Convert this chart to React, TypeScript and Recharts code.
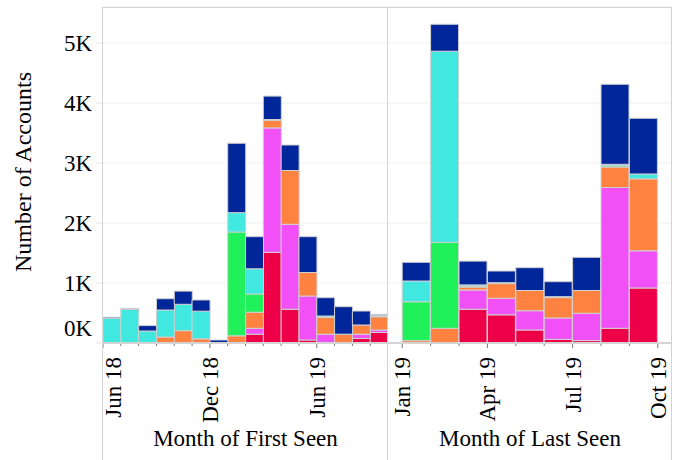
import { BarChart, Bar, XAxis, YAxis, CartesianGrid } from 'recharts'

// months on each pane (Oct 19 is only an axis tick on the right pane)
const firstMonths = ['Jun 18', 'Jul 18', 'Aug 18', 'Sep 18', 'Oct 18', 'Nov 18', 'Dec 18', 'Jan 19', 'Feb 19', 'Mar 19', 'Apr 19', 'May 19', 'Jun 19', 'Jul 19', 'Aug 19', 'Sep 19']
const lastMonths = ['Jan 19', 'Feb 19', 'Mar 19', 'Apr 19', 'May 19', 'Jun 19', 'Jul 19', 'Aug 19', 'Sep 19']
const lastAxisMonths = [...lastMonths, 'Oct 19']

const firstTickLabels = ['Jun 18', 'Dec 18', 'Jun 19']
const lastTickLabels = ['Jan 19', 'Apr 19', 'Jul 19', 'Oct 19']
const yTicks = [0, 1000, 2000, 3000, 4000, 5000]

// Month of First Seen
const firstRed = [0, 0, 0, 0, 0, 0, 0, 0, 147, 1510, 563, 50, 0, 0, 75, 175]
const firstMagenta = [0, 0, 0, 0, 0, 0, 0, 0, 98, 2075, 1415, 733, 147, 0, 72, 42]
const firstOrange = [0, 0, 0, 100, 205, 70, 0, 120, 268, 125, 897, 392, 278, 147, 153, 220]
const firstGreen = [0, 0, 0, 0, 0, 0, 0, 1730, 304, 0, 0, 0, 0, 0, 0, 0]
const firstCyan = [415, 560, 200, 450, 440, 460, 0, 322, 420, 15, 0, 0, 25, 0, 0, 20]
const firstBlue = [15, 15, 90, 188, 220, 187, 50, 1157, 535, 390, 425, 597, 305, 458, 233, 20]

// Month of Last Seen
const lastRed = [0, 0, 563, 470, 217, 60, 40, 245, 917]
const lastMagenta = [0, 0, 320, 275, 321, 357, 455, 2347, 620]
const lastOrange = [40, 245, 50, 245, 337, 340, 380, 341, 1200]
const lastGreen = [648, 1433, 15, 0, 0, 0, 0, 20, 0]
const lastCyan = [345, 3185, 20, 15, 0, 15, 0, 25, 80]
const lastBlue = [312, 449, 397, 195, 380, 250, 553, 1334, 928]

const seriesKeys = ['red', 'magenta', 'orange', 'green', 'cyan', 'blue']
const seriesColors = ['#ee0048', '#f050f5', '#ff8240', '#20f05a', '#40e8e0', '#00269a']

const FONT = '"Liberation Serif", "Times New Roman", serif'
const BORDER = '#d3d3d3'

function buildRows(months: string[], cols: number[][]) {
  return months.map((m, i) => {
    const row: any = { x: i + 0.5, month: m }
    seriesKeys.forEach((k, j) => { row[k] = cols[j][i] })
    return row
  })
}

const firstData = buildRows(firstMonths, [firstRed, firstMagenta, firstOrange, firstGreen, firstCyan, firstBlue])
const lastData = buildRows(lastMonths, [lastRed, lastMagenta, lastOrange, lastGreen, lastCyan, lastBlue])

function monthTick(months: string[], labels: string[], firstShift: number) {
  return (props: any) => {
    const { x, y, payload } = props
    const i = payload.value
    const name = months[i]
    const major = labels.includes(name)
    const lx = x + (i === 0 ? firstShift : 0)
    const ty = y + 14
    return (
      <g>
        <line x1={x} x2={x} y1={y + 1} y2={y + (major ? 5 : 3)} stroke="#777" strokeWidth={1} />
        {major && (
          <text x={lx} y={ty} transform={`rotate(-90, ${lx}, ${ty})`} textAnchor="end" dy="0.35em"
            fontSize={23} fontFamily={FONT} fill="#000">{name}</text>
        )}
      </g>
    )
  }
}

function countTick(props: any) {
  const { x, y, payload } = props
  const shift = payload.value === 0 ? -15 : 0
  return (
    <text x={x} y={y + shift} dy="0.35em" textAnchor="end" fontSize={23} fontFamily={FONT} fill="#000">
      {`${payload.value / 1000}K`}
    </text>
  )
}

function xTitle(text: string) {
  return (props: any) => {
    const vb = props.viewBox
    return (
      <text x={vb.x + vb.width / 2} y={vb.y + 103} textAnchor="middle" fontSize={23} fontFamily={FONT} fill="#000">{text}</text>
    )
  }
}

function yTitle(props: any) {
  const vb = props.viewBox
  const cy = vb.y + vb.height / 2 - 3
  return (
    <text x={23} y={cy} transform={`rotate(-90, 23, ${cy})`} dy="0.35em" textAnchor="middle" fontSize={24} fontFamily={FONT} fill="#000">
      Number of Accounts
    </text>
  )
}

function Stack() {
  return seriesKeys.map((k, j) => (
    <Bar key={k} dataKey={k} stackId="a" fill={seriesColors[j]} stroke="#d0d0d0" strokeWidth={1} isAnimationActive={false} />
  ))
}

const line = (style: any) => <div style={{ position: 'absolute', background: BORDER, ...style }} />

export default function App() {
  return (
    <div style={{ position: 'absolute', left: 0, top: 0, width: 681, height: 460, background: '#fff', fontFamily: FONT }}>
      <div style={{ position: 'absolute', left: 0, top: 0 }}>
        <BarChart width={388} height={460} data={firstData} margin={{ top: 7, right: 0, left: 0, bottom: 0 }} barCategoryGap={0} barGap={0}>
          <CartesianGrid vertical={false} stroke="#eeeeee" />
          <YAxis width={103} domain={[0, 5600]} ticks={yTicks} axisLine={false} tickLine={{ stroke: '#e6e6e6' }}
            tickSize={7} tickMargin={4} tick={countTick} label={yTitle} />
          <XAxis type="number" dataKey="x" domain={[0, 16]} ticks={firstMonths.map((_, i) => i)} height={117}
            axisLine={{ stroke: '#d4d4d4', strokeWidth: 2 }} tickLine={false} tickSize={0} tickMargin={0}
            tick={monthTick(firstMonths, firstTickLabels, 10)} interval={0} label={xTitle('Month of First Seen')} />
          {Stack()}
        </BarChart>
      </div>
      <div style={{ position: 'absolute', left: 388, top: 0 }}>
        <BarChart width={284} height={460} data={lastData} margin={{ top: 7, right: 0, left: 0, bottom: 0 }} barCategoryGap={0} barGap={0}>
          <CartesianGrid vertical={false} stroke="#eeeeee" />
          <YAxis hide width={0} domain={[0, 5600]} ticks={yTicks} />
          <XAxis type="number" dataKey="x" domain={[-0.5, 9.5]} ticks={lastAxisMonths.map((_, i) => i)} height={117}
            axisLine={{ stroke: '#d4d4d4', strokeWidth: 2 }} tickLine={false} tickSize={0} tickMargin={0}
            tick={monthTick(lastAxisMonths, lastTickLabels, 0)} interval={0} label={xTitle('Month of Last Seen')} />
          {Stack()}
        </BarChart>
      </div>
      {line({ left: 102, top: 7, width: 570, height: 1 })}
      {line({ left: 102, top: 7, width: 1, height: 453 })}
      {line({ left: 387, top: 7, width: 1, height: 453 })}
      {line({ left: 671, top: 7, width: 1, height: 453 })}
    </div>
  )
}
